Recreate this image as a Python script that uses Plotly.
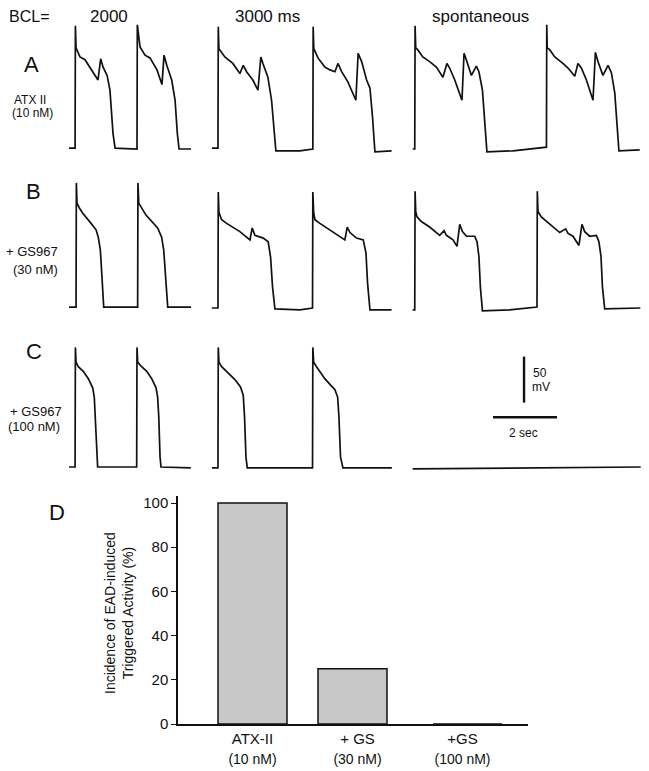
import plotly.graph_objects as go

W, H = 649, 771          # browser window
OFF = 0                  # page margin is removed by a post script (see write_html)

# ---------------- DATA ----------------
# Membrane potential sweeps: time (ms from sweep start) and voltage (mV)
# Row A: ATX II (10 nM)
A_bcl2000_t = [0, 190, 200, 220, 345, 500, 905, 990, 1065, 1190, 1280, 1375, 1440, 2125, 2135, 2220, 2375, 2530, 2750, 2905, 2970, 3055, 3210, 3315, 3385, 3440, 3815]
A_bcl2000_v = [-84, -84, 49, 25, 15, 12, -10, 13, 4, -5, -21, -68, -84, -85, 50, 26, 17, 14, 1, -15, 17, 6, -10, -32, -68, -85, -85]
A_bcl3000_t = [0, 190, 200, 220, 405, 655, 875, 980, 1085, 1280, 1440, 1530, 1595, 1750, 1865, 1940, 2000, 2750, 3155, 3165, 3185, 3315, 3530, 3690, 3845, 3940, 4055, 4250, 4500, 4570, 4680, 4835, 4940, 5020, 5095, 5615]
A_bcl3000_v = [-84, -84, 48, 24, 15, 8, -3, 6, -1, -10, -21, 15, 8, -7, -32, -68, -87, -87, -85, 48, 24, 14, 4, 1, -1, 8, -1, -12, -32, 19, 10, -10, -19, -50, -88, -87]
A_spont_t = [0, 65, 75, 95, 155, 315, 530, 740, 945, 1070, 1155, 1315, 1540, 1605, 1695, 1835, 1990, 2070, 2180, 2250, 2320, 3135, 4180, 4190, 4205, 4280, 4440, 4695, 4855, 5065, 5165, 5270, 5430, 5635, 5710, 5790, 5945, 6105, 6210, 6315, 6385, 6445, 7095]
A_spont_v = [-85, -85, 49, 25, 23, 15, 10, 4, -7, 8, 3, -10, -32, 19, 10, -5, 5, -1, -21, -61, -88, -87, -83, 50, 25, 23, 15, 8, 3, -6, 8, 3, -10, -32, 20, 10, -5, 6, -2, -24, -61, -87, -86]

# Row B: + GS967 (30 nM)
B_bcl2000_t = [0, 220, 230, 250, 320, 430, 690, 845, 915, 980, 1030, 1085, 2145, 2155, 2180, 2305, 2405, 2770, 2895, 2960, 3020, 3085, 3815]
B_bcl2000_v = [-84, -84, 51, 29, 24, 18, 7, 0, -8, -22, -51, -84, -84, 51, 29, 22, 16, 2, -8, -22, -51, -84, -84]
B_bcl3000_t = [0, 190, 200, 220, 305, 460, 875, 1190, 1260, 1345, 1605, 1760, 1835, 1895, 1970, 2750, 3145, 3155, 3180, 3220, 3375, 3690, 4155, 4230, 4315, 4520, 4730, 4815, 4865, 4940, 5615]
B_bcl3000_v = [-85, -85, 41, 19, 11, 7, -2, -11, 2, -6, -9, -13, -30, -62, -86, -87, -85, 41, 19, 11, 7, 0, -11, 3, -3, -9, -11, -25, -58, -87, -87]
B_spont_t = [0, 65, 75, 95, 135, 270, 530, 845, 980, 1055, 1260, 1385, 1470, 1555, 1680, 1835, 1940, 2010, 2070, 2115, 2180, 3030, 3885, 3895, 3915, 4020, 4180, 4595, 4780, 4855, 5010, 5195, 5290, 5375, 5530, 5740, 5820, 5885, 5930, 6000, 7115]
B_spont_v = [-87, -87, 42, 20, 14, 9, 3, -6, -1, -6, -11, -18, 6, -2, -7, -7, -7, -13, -29, -62, -88, -87, -84, 42, 20, 14, 9, -3, 1, -4, -7, -17, 6, -2, -7, -6, -13, -29, -62, -86, -85]

# Row C: + GS967 (100 nM)
C_bcl2000_t = [0, 190, 200, 220, 290, 445, 605, 740, 790, 820, 865, 895, 2115, 2125, 2145, 2270, 2430, 2585, 2720, 2770, 2805, 2845, 2875, 3805]
C_bcl2000_v = [-85, -85, 45, 29, 24, 19, 11, 1, -9, -30, -74, -85, -85, 45, 29, 24, 19, 11, 1, -9, -30, -74, -85, -86]
C_bcl3000_t = [0, 190, 200, 220, 305, 510, 720, 895, 980, 1020, 1065, 1105, 3145, 3155, 3180, 3270, 3375, 3530, 3710, 3845, 3930, 3970, 4020, 4095, 5625]
C_bcl3000_v = [-86, -86, 45, 29, 24, 17, 10, 2, -7, -30, -74, -86, -86, 45, 29, 24, 19, 11, 4, -1, -9, -30, -74, -86, -86]
C_spont_t = [0, 3500, 7125]
C_spont_v = [-87, -86, -85]

column_titles = ["2000", "3000 ms", "spontaneous"]
row_letters = ["A", "B", "C"]
row_drug = ["ATX II", "+ GS967", "+ GS967"]
row_conc = ["(10 nM)", "(30 nM)", "(100 nM)"]

scalebar_time_s = 2
scalebar_mV = 50

# Panel D
categories = ["ATX-II", "+ GS", "+GS"]
concentrations = ["(10 nM)", "(30 nM)", "(100 nM)"]
incidence_pct = [100, 25, 0]
y_ticks = [0, 20, 40, 60, 80, 100]

# ---------------- LAYOUT HELPERS ----------------
FONT = "Liberation Sans, Arial, Helvetica, sans-serif"
INK = "#111111"
FW, FH = W - OFF, H - OFF

def pxx(x):
    return (x - OFF) / FW

def pxy(y):
    return 1 - (y - OFF) / FH

T0_PX, PX_PER_S = 69, 32.0
PX_PER_MV, V_REF = 0.92, -85
GAP_S = 0.65
XR = [(OFF - T0_PX) / PX_PER_S, (W - T0_PX) / PX_PER_S]
# (top px, bottom px, pixel of V_REF) for rows A, B, C
row_geom = [(16, 164, 149), (174, 324, 308), (334, 484, 467)]

rows = [
    [(A_bcl2000_t, A_bcl2000_v), (A_bcl3000_t, A_bcl3000_v), (A_spont_t, A_spont_v)],
    [(B_bcl2000_t, B_bcl2000_v), (B_bcl3000_t, B_bcl3000_v), (B_spont_t, B_spont_v)],
    [(C_bcl2000_t, C_bcl2000_v), (C_bcl3000_t, C_bcl3000_v), (C_spont_t, C_spont_v)],
]

# column start offsets (s): each sweep column follows the previous one plus a gap
col_len = [max(r[c][0][-1] for r in rows) / 1000.0 for c in range(3)]
col_off = [0.0]
for c in range(1, 3):
    col_off.append(col_off[-1] + col_len[c - 1] + GAP_S)

fig = go.Figure()
layout = dict(
    width=FW, height=FH, margin=dict(l=0, r=0, t=0, b=0),
    paper_bgcolor="white", plot_bgcolor="rgba(0,0,0,0)",
    showlegend=False, template="none",
    font=dict(family=FONT, color=INK),
)

for i, sweeps in enumerate(rows):
    k = i + 1
    xa = "x" if k == 1 else f"x{k}"
    ya = "y" if k == 1 else f"y{k}"
    top, bot, base = row_geom[i]
    layout["xaxis" if k == 1 else f"xaxis{k}"] = dict(
        domain=[0, 1], range=XR, visible=False, anchor=ya, fixedrange=True)
    layout["yaxis" if k == 1 else f"yaxis{k}"] = dict(
        domain=[pxy(bot), pxy(top)],
        range=[V_REF - (bot - base) / PX_PER_MV, V_REF + (base - top) / PX_PER_MV],
        visible=False, anchor=xa, fixedrange=True)
    for c, (ts, vs) in enumerate(sweeps):
        fig.add_trace(go.Scatter(
            x=[col_off[c] + t / 1000.0 for t in ts], y=vs, mode="lines",
            line=dict(color=INK, width=1.7), xaxis=xa, yaxis=ya,
            hoverinfo="skip"))

# scale bars (row C axes)
sb_x0, sb_y0 = 13.25, -31.0      # left end of time bar
sb_vx, sb_vy0 = 14.22, -15.0     # bottom of voltage bar
fig.add_trace(go.Scatter(x=[sb_x0, sb_x0 + scalebar_time_s], y=[sb_y0, sb_y0],
                         mode="lines", line=dict(color=INK, width=2.4),
                         xaxis="x3", yaxis="y3", hoverinfo="skip"))
fig.add_trace(go.Scatter(x=[sb_vx, sb_vx], y=[sb_vy0, sb_vy0 + scalebar_mV],
                         mode="lines", line=dict(color=INK, width=2.4),
                         xaxis="x3", yaxis="y3", hoverinfo="skip"))

# ---------------- Panel D bar chart ----------------
CAT_PX = 105.0
BAR_W = 69 / CAT_PX
bar_shift = [0.0, -5 / CAT_PX, 5 / CAT_PX]
xs = list(range(len(categories)))
fig.add_trace(go.Bar(
    x=xs, y=incidence_pct, width=BAR_W,
    offset=[-BAR_W / 2 + s for s in bar_shift],
    marker=dict(color="#c8c8c8", line=dict(color=INK, width=1.5)),
    xaxis="x4", yaxis="y4", hoverinfo="skip"))

ax_l, ax_r, tick0_px = 178, 528, 252.5
x4_lo = -(tick0_px - ax_l) / CAT_PX
layout["xaxis4"] = dict(
    domain=[pxx(ax_l), pxx(ax_r)], range=[x4_lo, x4_lo + (ax_r - ax_l) / CAT_PX],
    anchor="y4", showline=True, linecolor=INK, linewidth=2, ticks="",
    showgrid=False, zeroline=False, tickmode="array", tickvals=xs,
    ticktext=[f"{c}<br><span style='font-size:14px'>{n}</span>" for c, n in zip(categories, concentrations)],
    tickfont=dict(size=15, color=INK, family=FONT), fixedrange=True)
layout["yaxis4"] = dict(
    domain=[pxy(724), pxy(496)], range=[0, 228 / 2.21],
    anchor="x4", showline=True, linecolor=INK, linewidth=1.5,
    ticks="outside", ticklen=5, tickwidth=1.3, tickcolor=INK,
    tickvals=y_ticks, showgrid=False, zeroline=False,
    tickfont=dict(size=15, color=INK, family=FONT), fixedrange=True)

# ---------------- Text ----------------
ann = []

def text(s, x, y, size, **kw):
    d = dict(text=s, x=pxx(x), y=pxy(y), xref="paper", yref="paper",
             showarrow=False, xanchor="center", yanchor="middle",
             font=dict(size=size, family=FONT, color=INK))
    d.update(kw)
    ann.append(d)

text("BCL=", 29, 16, 16)
for s, x in zip(column_titles, [108.8, 267.5, 480.8]):
    text(s, x, 16, 17)
letter_pos = [(31.7, 64), (33, 191), (33.8, 352)]
drug_pos = [((29.7, 100.3), (32.2, 112.7), 12),
            ((31.7, 251.7), (35.3, 269.3), 13),
            ((35.8, 411.7), (34.2, 426.7), 13)]
for i in range(3):
    text(row_letters[i], *letter_pos[i], 22)
    (dx, dy), (cx, cy), fs = drug_pos[i]
    text(row_drug[i], dx, dy, fs)
    text(row_conc[i], cx, cy, fs)
text("D", 57, 512, 22)
text(f"{scalebar_mV}", 540, 372.7, 12)
text("mV", 540.7, 387.3, 12)
text(f"{scalebar_time_s} sec", 523.3, 432.7, 12)
text("Incidence of EAD-induced<br>Triggered Activity (%)", 119, 613, 14, textangle=-90)

layout["annotations"] = ann
fig.update_layout(**layout)
fig.write_html(
    "out.html", config={"displayModeBar": False},
    post_script="document.body.style.margin='0';document.body.style.overflow='hidden';")
